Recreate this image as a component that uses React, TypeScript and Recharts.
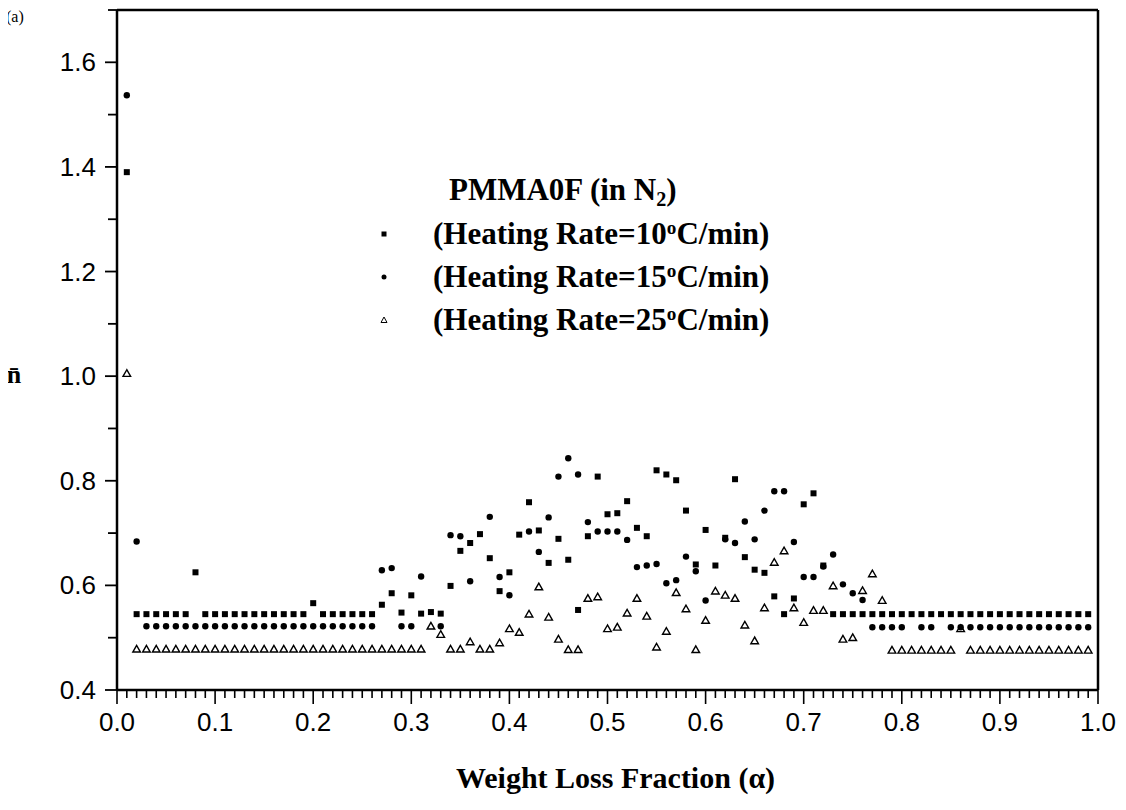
import React from 'react';
import { ScatterChart, Scatter, XAxis, YAxis, ReferenceLine, Label } from 'recharts';

// weight loss fraction (alpha) for every sample
const alphas = [
  0.01, 0.02, 0.03, 0.04, 0.05, 0.06, 0.07, 0.08, 0.09, 0.1,
  0.11, 0.12, 0.13, 0.14, 0.15, 0.16, 0.17, 0.18, 0.19, 0.2,
  0.21, 0.22, 0.23, 0.24, 0.25, 0.26, 0.27, 0.28, 0.29, 0.3,
  0.31, 0.32, 0.33, 0.34, 0.35, 0.36, 0.37, 0.38, 0.39, 0.4,
  0.41, 0.42, 0.43, 0.44, 0.45, 0.46, 0.47, 0.48, 0.49, 0.5,
  0.51, 0.52, 0.53, 0.54, 0.55, 0.56, 0.57, 0.58, 0.59, 0.6,
  0.61, 0.62, 0.63, 0.64, 0.65, 0.66, 0.67, 0.68, 0.69, 0.7,
  0.71, 0.72, 0.73, 0.74, 0.75, 0.76, 0.77, 0.78, 0.79, 0.8,
  0.81, 0.82, 0.83, 0.84, 0.85, 0.86, 0.87, 0.88, 0.89, 0.9,
  0.91, 0.92, 0.93, 0.94, 0.95, 0.96, 0.97, 0.98, 0.99,
];

// n-bar, heating rate 10 C/min (squares)
const n10 = [
  1.39, 0.545, 0.545, 0.545, 0.545, 0.545, 0.545, 0.625, 0.545, 0.545,
  0.545, 0.545, 0.545, 0.545, 0.545, 0.545, 0.545, 0.545, 0.545, 0.566,
  0.545, 0.545, 0.545, 0.545, 0.545, 0.545, 0.563, 0.585, 0.548, 0.581,
  0.546, 0.549, 0.546, 0.599, 0.666, 0.681, 0.698, 0.652, 0.589, 0.625,
  0.697, 0.759, 0.705, 0.643, 0.689, 0.649, 0.553, 0.694, 0.808, 0.736,
  0.738, 0.761, 0.71, 0.694, 0.82, 0.812, 0.801, 0.743, 0.64, 0.706,
  0.638, 0.691, 0.803, 0.654, 0.63, 0.624, 0.579, 0.545, 0.575, 0.755,
  0.776, 0.638, 0.545, 0.545, 0.545, 0.545, 0.545, 0.545, 0.545, 0.545,
  0.545, 0.545, 0.545, 0.545, 0.545, 0.545, 0.545, 0.545, 0.545, 0.545,
  0.545, 0.545, 0.545, 0.545, 0.545, 0.545, 0.545, 0.545, 0.545,
];

// heating rate 15 C/min (dots), null = hidden / not drawn
const n15 = [
  1.537, 0.684, 0.522, 0.522, 0.522, 0.522, 0.522, 0.522, 0.522, 0.522,
  0.522, 0.522, 0.522, 0.522, 0.522, 0.522, 0.522, 0.522, 0.522, 0.522,
  0.522, 0.522, 0.522, 0.522, 0.522, 0.522, 0.629, 0.633, 0.522, 0.522,
  0.617, null, 0.522, 0.696, 0.694, 0.608, null, 0.731, 0.616, 0.581,
  null, 0.703, 0.664, 0.73, 0.808, 0.843, 0.812, 0.721, 0.703, 0.703,
  0.703, 0.687, 0.635, 0.638, 0.641, 0.604, 0.61, 0.655, 0.627, 0.571,
  null, 0.688, 0.681, 0.722, 0.688, 0.743, 0.78, 0.78, 0.683, 0.616,
  0.616, 0.636, 0.659, 0.602, 0.585, 0.572, 0.52, 0.52, 0.52, 0.52,
  null, 0.52, 0.52, null, 0.52, 0.52, 0.52, 0.52, 0.52, 0.52,
  0.52, 0.52, 0.52, 0.52, 0.52, 0.52, 0.52, 0.52, 0.52,
];

// heating rate 25 C/min (open triangles)
const n25 = [
  1.005, 0.478, 0.478, 0.478, 0.478, 0.478, 0.478, 0.478, 0.478, 0.478,
  0.478, 0.478, 0.478, 0.478, 0.478, 0.478, 0.478, 0.478, 0.478, 0.478,
  0.478, 0.478, 0.478, 0.478, 0.478, 0.478, 0.478, 0.478, 0.478, 0.478,
  0.478, 0.522, 0.506, 0.478, 0.478, 0.492, 0.478, 0.478, 0.49, 0.517,
  0.51, 0.545, 0.597, 0.539, 0.497, 0.477, 0.477, 0.575, 0.578, 0.517,
  0.52, 0.547, 0.575, 0.541, 0.482, 0.512, 0.586, 0.555, 0.477, 0.533,
  0.589, 0.581, 0.575, 0.524, 0.494, 0.557, 0.644, 0.666, 0.557, 0.529,
  0.552, 0.552, 0.599, 0.497, 0.5, 0.59, 0.622, 0.571, 0.476, 0.476,
  0.476, 0.476, 0.476, 0.476, 0.476, 0.517, 0.476, 0.476, 0.476, 0.476,
  0.476, 0.476, 0.476, 0.476, 0.476, 0.476, 0.476, 0.476, 0.476,
];

const xMajorTicks = [0, 0.1, 0.2, 0.3, 0.4, 0.5, 0.6, 0.7, 0.8, 0.9, 1.0];
const yTicks = [0.4, 0.5, 0.6, 0.7, 0.8, 0.9, 1.0, 1.1, 1.2, 1.3, 1.4, 1.5, 1.6, 1.7];
const yMajorTicks = [0.4, 0.6, 0.8, 1.0, 1.2, 1.4, 1.6];
const legendRates = ['10', '15', '25'];

// minor ticks every 0.01 (axis structure only)
const xMinorTicks = Array.from({ length: 101 }, (_, i) => i / 100);

const toPoints = (vals: (number | null)[]) =>
  alphas.map((a, i) => ({ a, n: vals[i] })).filter((p) => p.n != null);

const SANS = "'Liberation Sans', Arial, sans-serif";
const SERIF = "'Liberation Serif', 'Times New Roman', serif";

const SquareShape = (props: any) => {
  const { cx, cy } = props;
  if (cx == null || cy == null) return null;
  return <rect x={cx - 3} y={cy - 3} width={6} height={6} fill="#000" />;
};

const DotShape = (props: any) => {
  const { cx, cy } = props;
  if (cx == null || cy == null) return null;
  return <circle cx={cx} cy={cy} r={3.2} fill="#000" />;
};

const TriangleShape = (props: any) => {
  const { cx, cy } = props;
  if (cx == null || cy == null) return null;
  const s = 3.8;
  return (
    <polygon
      points={`${cx},${cy - s} ${cx - s},${cy + s * 0.75} ${cx + s},${cy + s * 0.75}`}
      fill="#fff"
      stroke="#000"
      strokeWidth={1.4}
    />
  );
};

const isMajor = (v: number, list: number[]) => list.some((m) => Math.abs(m - v) < 1e-6);

const XTick = (props: any) => {
  const { x, y, payload } = props;
  const v = payload.value as number;
  const major = isMajor(v, xMajorTicks);
  return (
    <g>
      <line x1={x} y1={y} x2={x} y2={y + (major ? 14 : 8)} stroke="#000" strokeWidth={1.6} />
      {major && (
        <text x={x} y={y + 41} textAnchor="middle" fontSize={26} fontFamily={SANS} fill="#000">
          {v.toFixed(1)}
        </text>
      )}
    </g>
  );
};

const YTick = (props: any) => {
  const { x, y, payload } = props;
  const v = payload.value as number;
  const major = isMajor(v, yMajorTicks);
  return (
    <g>
      <line x1={x} y1={y} x2={x - (major ? 12 : 9)} y2={y} stroke="#000" strokeWidth={1.8} />
      {major && (
        <text x={x - 21} y={y + 9} textAnchor="end" fontSize={26} fontFamily={SANS} fill="#000">
          {v.toFixed(1)}
        </text>
      )}
    </g>
  );
};

const LegendMarker = ({ kind }: { kind: number }) => (
  <svg width={10} height={10} style={{ position: 'absolute', left: 371, top: 0 }}>
    {kind === 0 && <rect x={2.5} y={2.5} width={5} height={5} fill="#000" />}
    {kind === 1 && <circle cx={5} cy={5} r={2.5} fill="#000" />}
    {kind === 2 && <polygon points="5,2 2,7.5 8,7.5" fill="#fff" stroke="#000" strokeWidth={1} />}
  </svg>
);

export default function App() {
  const text: React.CSSProperties = {
    position: 'absolute',
    fontFamily: SERIF,
    fontWeight: 'bold',
    fontSize: 31,
    lineHeight: '40px',
    whiteSpace: 'nowrap',
    color: '#000',
  };
  const rowCenters = [226, 269, 312];
  return (
    <div style={{ position: 'relative', width: 1110, height: 794 }}>
      <ScatterChart width={1110} height={794} margin={{ top: 2, right: 20, left: 0, bottom: 0 }}>
        <XAxis
          type="number"
          dataKey="a"
          domain={[0, 1]}
          ticks={xMinorTicks}
          interval={0}
          tick={<XTick />}
          tickLine={false}
          tickSize={0}
          tickMargin={0}
          height={112}
          axisLine={{ stroke: '#000', strokeWidth: 2.5 }}
        >
          <Label
            value="Weight Loss Fraction (α)"
            position="insideBottom"
            offset={14}
            dx={8}
            fontSize={30}
            fontWeight="bold"
            fontFamily={SERIF}
            fill="#000"
          />
        </XAxis>
        <YAxis
          type="number"
          dataKey="n"
          domain={[0.4, 1.7]}
          ticks={yTicks}
          interval={0}
          tick={<YTick />}
          tickLine={false}
          tickSize={0}
          tickMargin={0}
          width={109}
          axisLine={{ stroke: '#000', strokeWidth: 2.5 }}
        />
        <ReferenceLine y={1.7} stroke="#000" strokeWidth={2.5} />
        <ReferenceLine x={1} stroke="#000" strokeWidth={2.5} />
        <Scatter data={toPoints(n25)} shape={TriangleShape} isAnimationActive={false} />
        <Scatter data={toPoints(n15)} shape={DotShape} isAnimationActive={false} />
        <Scatter data={toPoints(n10)} shape={SquareShape} isAnimationActive={false} />
      </ScatterChart>

      <div style={{ position: 'absolute', left: -2, top: 0, fontFamily: SERIF, fontSize: 16 }}>(a)</div>
      <div
        style={{
          position: 'absolute',
          left: -4,
          top: 352,
          width: 20,
          textAlign: 'center',
          fontFamily: SERIF,
          fontWeight: 'bold',
          fontSize: 26,
          lineHeight: '30px',
        }}
      >
        n̄
      </div>

      <div style={{ ...text, left: 441, top: 182 - 20 }}>
        PMMA0F (in N<span style={{ position: 'relative', top: '0.3em', fontSize: '0.65em' }}>2</span>)
      </div>
      {legendRates.map((r, i) => (
        <div key={r} style={{ position: 'absolute', left: 0, top: rowCenters[i] - 20, width: 1110, height: 40 }}>
          <div style={{ position: 'absolute', left: 0, top: 15 }}>
            <LegendMarker kind={i} />
          </div>
          <div style={{ ...text, left: 425, top: 0 }}>
            (Heating Rate={r}
            <span style={{ position: 'relative', top: '-0.5em', fontSize: '0.62em' }}>o</span>C/min)
          </div>
        </div>
      ))}
    </div>
  );
}
